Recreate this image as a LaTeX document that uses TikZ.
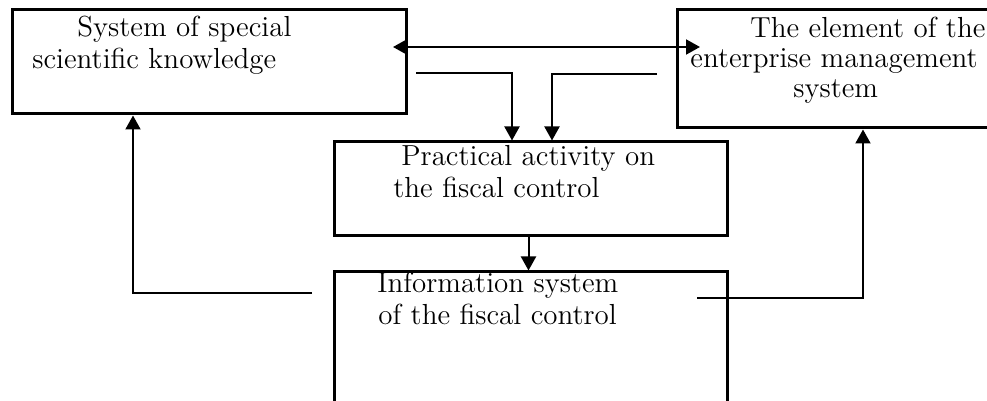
\documentclass[tikz,border=0pt]{standalone}
\usetikzlibrary{arrows.meta}

\begin{document}
\begin{tikzpicture}[x=0.5pt,y=-0.5pt,font=\fontsize{14.5}{16}\selectfont]
        \tikzset{block/.style={draw,line width=1.5pt,inner sep=0pt},
                 txt/.style={align=left,inner sep=0pt,anchor=north west},
                 conn/.style={line width=1pt},
                 arr/.style={conn,-{Triangle[length=7pt,width=7.5pt]}}}
        \clip (0,0) rectangle (987,401);
        % boxes
        \node[block,minimum width=197pt,minimum height=52pt](know) at (209,62) {};
        \node[block,minimum width=161.5pt,minimum height=59pt](elem) at (838.5,69) {};
        \node[block,minimum width=196.5pt,minimum height=47pt](act) at (530.5,189) {};
        \node[block,minimum width=196.5pt,minimum height=74pt](info) at (530.5,346) {};
        % texts
        \node[txt](knowtxt) at (32,16) {\hspace*{22.5pt}System of special\\scientific knowledge};
        \node[txt,font=\fontsize{14.5}{15}\selectfont](elemtxt) at (690,17) {\hspace*{30pt}The element of the\\enterprise management\\\hspace*{51.5pt}system};
        \node[txt](acttxt) at (393,145) {\hspace*{4pt}Practical activity on\\the fiscal control};
        \node[txt](infotxt) at (377,272) {Information system\\\hspace*{0.5pt}of the fiscal control};
        % connectors
        \coordinate (tipA) at (393,47);
        \coordinate (tipB) at (700,47);
        \coordinate (fromA) at (416,73);
        \coordinate (kneeA) at (512,73);
        \coordinate (fromB) at (657,74);
        \coordinate (kneeB) at (552,74);
        \coordinate (fromL) at (312,293);
        \coordinate (kneeL) at (133,293);
        \coordinate (fromR) at (697,298);
        \coordinate (kneeR) at (863,298);
        \draw[arr,{Triangle[length=7pt,width=7.5pt]}-{Triangle[length=7pt,width=7.5pt]}] (tipA) -- (tipB);
        \draw[arr] (fromA) -- (kneeA) -- (kneeA |- act.north);
        \draw[arr] (fromB) -- (kneeB) -- (kneeB |- act.north);
        \draw[arr] ([xshift=-1pt]act.south) -- ([xshift=-1pt]info.north);
        \draw[arr] (fromL) -- (kneeL) -- (kneeL |- know.south);
        \draw[arr] (fromR) -- (kneeR) -- (kneeR |- elem.south);
    \end{tikzpicture}
\end{document}
